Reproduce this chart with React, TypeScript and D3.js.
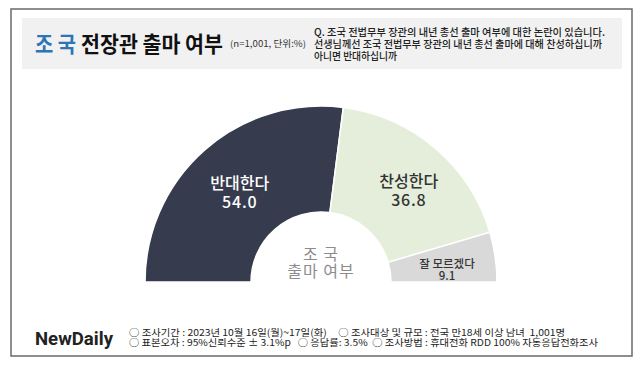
import React, { useRef, useEffect } from 'react';
import * as d3 from 'd3';

const categories = ['반대한다', '찬성한다', '잘 모르겠다'];
const values = [54.0, 36.8, 9.1];
const colors = ['#363c4d', '#e4eedb', '#d9d9d9'];
const labelColors = ['#ffffff', '#333333', '#333333'];

const questionLines = [
  'Q. 조국 전법무부 장관의 내년 총선 출마 여부에 대한 논란이 있습니다.',
  '선생님께선 조국 전법무부 장관의 내년 총선 출마에 대해 찬성하십니까',
  '아니면 반대하십니까',
];
const questionWidths = [291, 288, 83];
const footerLines = [
  '○ 조사기간 : 2023년 10월 16일(월)~17일(화)     ○ 조사대상 및 규모 : 전국 만18세 이상 남녀  1,001명',
  '○ 표본오차 : 95%신뢰수준 ± 3.1%p   ○ 응답률: 3.5%  ○ 조사방법 : 휴대전화 RDD 100% 자동응답전화조사',
];
const footerWidths = [436, 469];

const FONT = "'Noto Sans CJK KR', 'Noto Sans', sans-serif";

const App = () => {
  const ref = useRef<SVGSVGElement>(null);

  useEffect(() => {
    document.body.style.margin = '0';
    const width = 640;
    const height = 369;
    const cx = 321;
    const cy = 282;
    const outer = 176;
    const inner = 70;

    const svg = d3.select(ref.current);
    svg.selectAll('*').remove();
    svg.attr('width', width).attr('height', height).style('font-family', FONT);

    svg.append('rect').attr('width', width).attr('height', height).attr('fill', '#fff');
    // frame
    svg.append('rect')
      .attr('x', 11).attr('y', 9).attr('width', 621).attr('height', 347)
      .attr('fill', 'none').attr('stroke', '#6a6a6a').attr('stroke-width', 1.5);
    // header box
    svg.append('rect')
      .attr('x', 22).attr('y', 18).attr('width', 600).attr('height', 51)
      .attr('fill', '#f1f1f1');

    svg.append('text').attr('x', 35).attr('y', 52)
      .attr('font-size', 22).attr('font-weight', 700).attr('fill', '#2e75b6')
      .attr('textLength', 41).attr('lengthAdjust', 'spacingAndGlyphs').text('조 국');
    svg.append('text').attr('x', 81).attr('y', 52)
      .attr('font-size', 22).attr('font-weight', 700).attr('fill', '#111')
      .attr('textLength', 142).attr('lengthAdjust', 'spacingAndGlyphs').text('전장관 출마 여부');
    svg.append('text').attr('x', 230).attr('y', 47)
      .attr('font-size', 9).attr('fill', '#333')
      .attr('textLength', 76).attr('lengthAdjust', 'spacingAndGlyphs').text('(n=1,001, 단위:%)');

    svg.append('g').selectAll('text').data(questionLines).join('text')
      .attr('x', 314).attr('y', (d, i) => 36 + i * 12)
      .attr('font-size', 10.5).attr('font-weight', 500).attr('fill', '#222')
      .attr('textLength', (d, i) => questionWidths[i]).attr('lengthAdjust', 'spacingAndGlyphs')
      .text(d => d);

    const pie = d3.pie<number>().sort(null).value(d => d)
      .startAngle(-Math.PI / 2).endAngle(Math.PI / 2);
    const arcs = pie(values);
    const arc = d3.arc<d3.PieArcDatum<number>>().innerRadius(inner).outerRadius(outer);

    const g = svg.append('g').attr('transform', `translate(${cx},${cy})`);
    g.selectAll('path').data(arcs).join('path')
      .attr('d', arc)
      .attr('fill', (d, i) => colors[i])
      .attr('stroke', '#fff').attr('stroke-width', 1.5);

    // centroid radius ~123 puts labels where the reference has them
    const labelArc = d3.arc<d3.PieArcDatum<number>>().innerRadius(70).outerRadius(176);
    arcs.forEach((d, i) => {
      const small = i === 2;
      let [x, y] = labelArc.centroid(d);
      if (small) { x = 126; y = -14; }
      else { x += i === 1 ? 8 : 0; y -= 1; }
      const t = g.append('text').attr('text-anchor', 'middle').attr('fill', labelColors[i])
        .attr('font-size', small ? 11.5 : 16).attr('font-weight', 500);
      t.append('tspan').attr('x', x).attr('y', y).text(categories[i]);
      t.append('tspan').attr('x', x).attr('y', y + (small ? 12 : 19))
        .attr('letter-spacing', small ? 0 : 0.8)
        .text(values[i].toFixed(1));
    });

    const center = g.append('text').attr('text-anchor', 'middle')
      .attr('fill', '#8c8c8c').attr('font-size', 16).attr('letter-spacing', 1);
    center.append('tspan').attr('x', 0).attr('y', -22).text('조 국');
    center.append('tspan').attr('x', 0).attr('y', -5).text('출마 여부');

    // footer
    svg.append('text').attr('x', 35).attr('y', 345)
      .attr('font-size', 19).attr('font-weight', 700).attr('fill', '#222')
      .attr('font-family', "Roboto, 'Noto Sans', sans-serif")
      .attr('textLength', 78).attr('lengthAdjust', 'spacingAndGlyphs').text('NewDaily');
    svg.append('g').selectAll('text').data(footerLines).join('text')
      .attr('x', 129).attr('y', (d, i) => 336 + i * 10)
      .attr('font-size', 9.5).attr('fill', '#222').style('white-space', 'pre')
      .attr('textLength', (d, i) => footerWidths[i]).attr('lengthAdjust', 'spacingAndGlyphs')
      .text(d => d);
  }, []);

  return <svg ref={ref}></svg>;
};

export default App;
